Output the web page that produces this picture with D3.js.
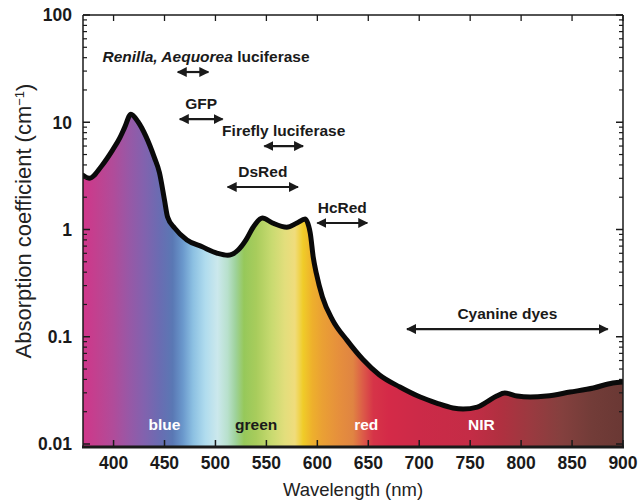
<!DOCTYPE html>
<html>
<head>
<meta charset="utf-8">
<script src="https://cdn.jsdelivr.net/npm/d3@7"></script>
<style>
  html, body { margin: 0; padding: 0; background: #fff; }
  svg { display: block; font-family: "Liberation Sans", Arial, Helvetica, sans-serif; }
</style>
</head>
<body>
<svg id="chart" width="638" height="504"></svg>
<script>
// absorption of tissue (nm -> cm^-1)
const wavelengths = [370, 376, 389, 399, 406, 411, 417, 424, 432, 440, 445, 450, 453, 460, 472, 487, 502, 512, 522, 530, 537,
  546, 556, 570, 580, 588, 593, 596, 599, 605, 615, 629, 645, 661, 681, 701, 717, 733, 743, 757, 766,
  776, 784, 796, 809, 825, 848, 871, 890, 900];
const absorption = [3.2, 3.0, 4.0, 5.5, 7.1, 9.0, 11.9, 10.1, 7.3, 4.7, 3.4, 1.88, 1.31, 1.03, 0.80, 0.69, 0.60, 0.575, 0.64, 0.80, 1.05,
  1.28, 1.15, 1.05, 1.15, 1.25, 0.93, 0.55, 0.39, 0.235, 0.143, 0.093, 0.061, 0.044, 0.034, 0.0274, 0.0241, 0.0217, 0.0212, 0.0221, 0.0246,
  0.028, 0.0299, 0.028, 0.0274, 0.028, 0.0305, 0.0333, 0.0371, 0.0379];

// reporters and their emission ranges
const probeLabels = ["Renilla, Aequorea luciferase", "GFP", "Firefly luciferase", "DsRed", "HcRed", "Cyanine dyes"];
const probeItalic = ["Renilla, Aequorea", "", "", "", "", ""];
const probeStart = [463, 465, 548, 512, 600, 688];
const probeEnd = [493, 507, 586, 581, 649, 885];
const probeLevel = [29.4, 10.7, 6.0, 2.49, 1.15, 0.118];

const bandLabels = ["blue", "green", "red", "NIR"];
const bandCenters = [450, 540, 648, 761];

const xTicks = [400, 450, 500, 550, 600, 650, 700, 750, 800, 850, 900];
const yTicks = [0.01, 0.1, 1, 10, 100];
const yTickLabels = ["0.01", "0.1", "1", "10", "100"];

// colour of the spectrum behind the curve
const spectrum = [
  [370, "#d0368a"], [385, "#c04290"], [400, "#b04c9a"], [415, "#9858a6"], [430, "#8262ae"],
  [445, "#6a6cb2"], [458, "#5a78b4"], [468, "#6a98cc"], [478, "#8cc0e2"], [490, "#b0dcee"],
  [502, "#cbe8ec"], [512, "#b8e0cc"], [520, "#9ed29a"], [528, "#96c85a"], [540, "#a8cc5c"],
  [555, "#c8da70"], [568, "#e2de7c"], [578, "#f0dc7c"], [586, "#f0cc28"], [595, "#eeb02c"],
  [605, "#eaa034"], [620, "#e6903c"], [635, "#e08442"], [645, "#dc5a48"], [655, "#d63448"],
  [670, "#d42a48"], [700, "#cc2a48"], [750, "#c42c46"], [780, "#b03040"], [810, "#9a3a40"],
  [840, "#84403e"], [870, "#723c38"], [900, "#6a3834"]
];

const plotLeft = 83, plotRight = 623, plotTop = 15, plotBottom = 447;
const ink = "#1a1a1a";

const svg = d3.select("#chart");

const x = d3.scaleLinear().domain([370, 900]).range([plotLeft, plotRight]);
const y = d3.scaleLog().domain([0.01, 100]).range([444, plotTop]);

const points = wavelengths.map((w, i) => ({ w: w, a: absorption[i] }));

const defs = svg.append("defs");

const grad = defs.append("linearGradient")
  .attr("id", "spectrum")
  .attr("gradientUnits", "userSpaceOnUse")
  .attr("x1", x(370)).attr("x2", x(900))
  .attr("y1", 0).attr("y2", 0);
grad.selectAll("stop")
  .data(spectrum)
  .enter().append("stop")
  .attr("offset", d => (d[0] - 370) / (900 - 370))
  .attr("stop-color", d => d[1]);

defs.append("clipPath").attr("id", "plotClip")
  .append("rect")
  .attr("x", plotLeft).attr("y", plotTop)
  .attr("width", plotRight - plotLeft).attr("height", plotBottom - plotTop);

defs.append("marker")
  .attr("id", "head")
  .attr("viewBox", "0 0 10 10")
  .attr("refX", 9).attr("refY", 5)
  .attr("markerUnits", "userSpaceOnUse")
  .attr("markerWidth", 10).attr("markerHeight", 10)
  .attr("orient", "auto-start-reverse")
  .append("path")
  .attr("d", "M0,0L10,5L0,10z")
  .attr("fill", ink);

// filled area + thick curve
const plot = svg.append("g").attr("clip-path", "url(#plotClip)");

const area = d3.area()
  .x(d => x(d.w))
  .y0(plotBottom)
  .y1(d => y(d.a))
  .curve(d3.curveMonotoneX);

const line = d3.line()
  .x(d => x(d.w))
  .y(d => y(d.a))
  .curve(d3.curveMonotoneX);

plot.append("path")
  .datum(points)
  .attr("d", area)
  .attr("fill", "url(#spectrum)");

plot.append("path")
  .datum(points)
  .attr("d", line)
  .attr("fill", "none")
  .attr("stroke", "#0a0a0a")
  .attr("stroke-width", 5)
  .attr("stroke-linejoin", "round")
  .attr("stroke-linecap", "round");

// band names inside the fill
svg.selectAll(".band")
  .data(bandLabels)
  .enter().append("text")
  .attr("class", "band")
  .attr("x", (d, i) => x(bandCenters[i]))
  .attr("y", plotBottom - 17)
  .attr("text-anchor", "middle")
  .style("font-size", "15.5px")
  .style("font-weight", "bold")
  .attr("fill", d => d === "green" ? ink : "#fff")
  .text(d => d);

// frame
svg.append("line").attr("x1", plotLeft).attr("x2", plotRight).attr("y1", plotTop).attr("y2", plotTop)
  .attr("stroke", ink).attr("stroke-width", 1.5);
svg.append("line").attr("x1", plotLeft).attr("x2", plotLeft).attr("y1", plotTop).attr("y2", plotBottom)
  .attr("stroke", ink).attr("stroke-width", 1.5);
svg.append("line").attr("x1", plotRight).attr("x2", plotRight).attr("y1", plotTop).attr("y2", plotBottom)
  .attr("stroke", ink).attr("stroke-width", 1.5);
svg.append("line").attr("x1", plotLeft - 1).attr("x2", plotRight + 1).attr("y1", plotBottom).attr("y2", plotBottom)
  .attr("stroke", ink).attr("stroke-width", 3);

// x ticks, inward on bottom and top
const xt = svg.append("g");
xTicks.forEach(t => {
  xt.append("line").attr("x1", x(t)).attr("x2", x(t)).attr("y1", plotBottom).attr("y2", plotBottom - 7)
    .attr("stroke", ink).attr("stroke-width", 1.5);
  xt.append("line").attr("x1", x(t)).attr("x2", x(t)).attr("y1", plotTop).attr("y2", plotTop + 6)
    .attr("stroke", ink).attr("stroke-width", 1.3);
  xt.append("text")
    .attr("x", x(t)).attr("y", 469)
    .attr("text-anchor", "middle")
    .style("font-size", "17.5px").style("font-weight", "bold")
    .attr("fill", ink)
    .text(t);
});

// y ticks: majors labelled, minors 2..9 on both sides
const yt = svg.append("g");
const minors = [];
yTicks.slice(0, -1).forEach(d => {
  for (let k = 2; k <= 9; k++) minors.push(d * k);
});
yTicks.forEach((t, i) => {
  yt.append("line").attr("x1", plotLeft).attr("x2", plotLeft + 7).attr("y1", y(t)).attr("y2", y(t))
    .attr("stroke", ink).attr("stroke-width", 1.5);
  yt.append("line").attr("x1", plotRight).attr("x2", plotRight - 7).attr("y1", y(t)).attr("y2", y(t))
    .attr("stroke", ink).attr("stroke-width", 1.5);
  yt.append("text")
    .attr("x", 72).attr("y", y(t)).attr("dy", "0.36em")
    .attr("text-anchor", "end")
    .style("font-size", "17.5px").style("font-weight", "bold")
    .attr("fill", ink)
    .text(yTickLabels[i]);
});
minors.forEach(t => {
  yt.append("line").attr("x1", plotLeft).attr("x2", plotLeft + 4).attr("y1", y(t)).attr("y2", y(t))
    .attr("stroke", ink).attr("stroke-width", 1.2);
  yt.append("line").attr("x1", plotRight).attr("x2", plotRight - 4).attr("y1", y(t)).attr("y2", y(t))
    .attr("stroke", ink).attr("stroke-width", 1.2);
});

// reporter ranges
const probes = svg.selectAll(".probe")
  .data(probeLabels)
  .enter().append("g")
  .attr("class", "probe");

probes.append("line")
  .attr("x1", (d, i) => x(probeStart[i]))
  .attr("x2", (d, i) => x(probeEnd[i]))
  .attr("y1", (d, i) => y(probeLevel[i]))
  .attr("y2", (d, i) => y(probeLevel[i]))
  .attr("stroke", ink)
  .attr("stroke-width", 2.2)
  .attr("marker-start", "url(#head)")
  .attr("marker-end", "url(#head)");

probes.each(function(d, i) {
  const cx = (x(probeStart[i]) + x(probeEnd[i])) / 2 + (i === 0 ? 13 : 0);
  const t = d3.select(this).append("text")
    .attr("x", cx)
    .attr("y", y(probeLevel[i]) - 10)
    .attr("text-anchor", "middle")
    .style("font-size", "15.5px")
    .style("font-weight", "bold")
    .attr("fill", ink);
  const it = probeItalic[i];
  if (it) {
    t.append("tspan").style("font-style", "italic").text(it);
    t.append("tspan").text(d.slice(it.length));
  } else {
    t.text(d);
  }
});

// axis titles
svg.append("text")
  .attr("x", 353).attr("y", 496)
  .attr("text-anchor", "middle")
  .style("font-size", "18.5px")
  .attr("fill", "#222")
  .text("Wavelength (nm)");

const yTitle = svg.append("text")
  .attr("transform", "translate(31,221) rotate(-90)")
  .attr("text-anchor", "middle")
  .style("font-size", "22px")
  .attr("fill", "#222");
yTitle.append("tspan").text("Absorption coefficient (cm");
yTitle.append("tspan").attr("dy", "-0.55em").style("font-size", "13px").text("\u22121");
yTitle.append("tspan").attr("dy", "0.38em").text(")");
</script>
</body>
</html>
